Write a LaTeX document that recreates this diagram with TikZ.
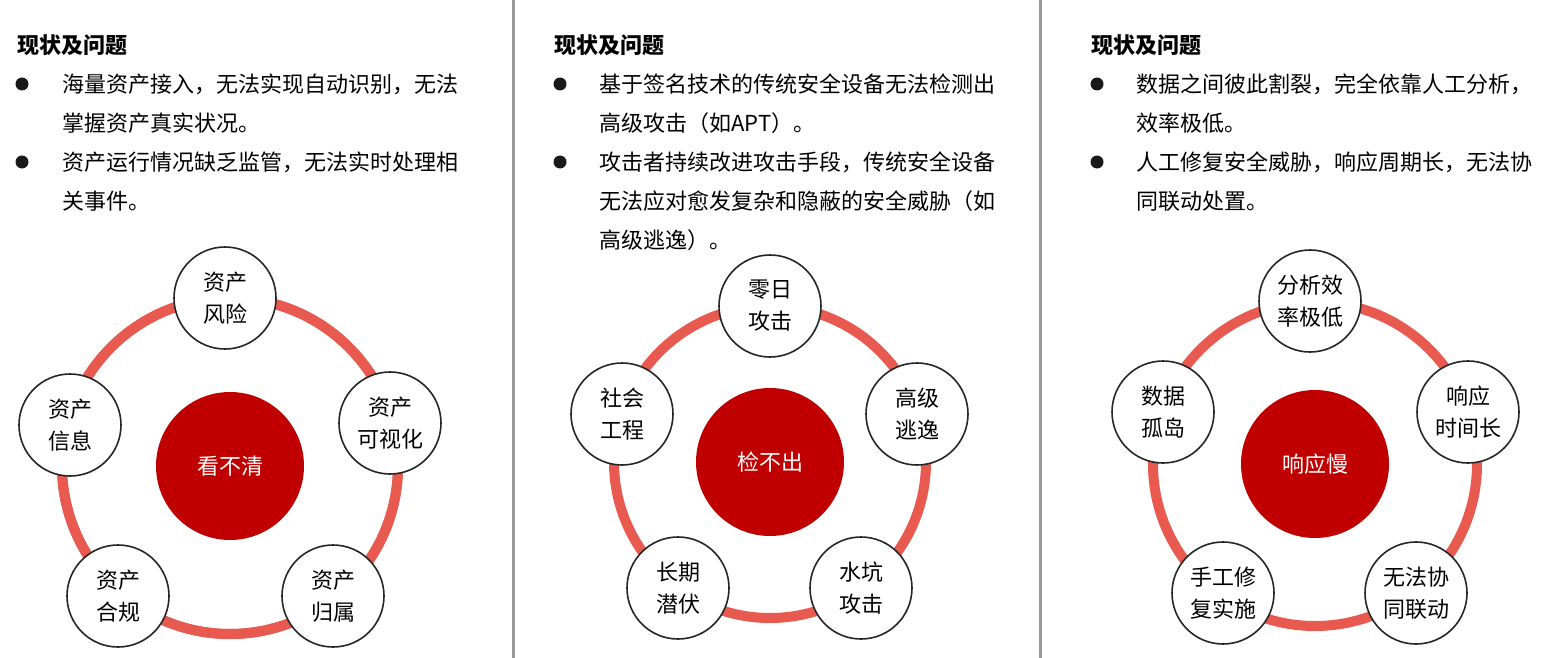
\documentclass[tikz,border=0pt]{standalone}
\usepackage{fontspec}
\setmainfont{Noto Sans CJK SC}
\newfontfamily\cjkb[FakeBold=0]{Noto Sans CJK SC Bold}
\definecolor{ringc}{HTML}{E85A50}
\definecolor{core}{HTML}{C00000}
\begin{document}
\begin{tikzpicture}[x=0.5pt,y=-0.5pt,font=\fontsize{11pt}{13pt}\selectfont,
  ring/.style={draw=ringc,line width=5pt},
  bub/.style={circle,draw=black!85,line width=0.8pt,fill=white,minimum size=51pt,inner sep=0pt,align=center,font=\fontsize{11pt}{16pt}\selectfont},
  core/.style={circle,fill=core,minimum size=74pt,inner sep=0pt,text=white},
  head/.style={anchor=west,font=\fontsize{11pt}{13pt}\selectfont\bfseries},
  txt/.style={anchor=west,inner sep=0pt},
  dot/.style={circle,fill=black!90,inner sep=0pt,minimum size=6.5pt}]
\useasboundingbox (0,0) rectangle (1558,658);
\draw[black!40,line width=1.5pt] (513,0) -- (513,658);
\draw[black!40,line width=1.5pt] (1040,0) -- (1040,658);
% panel 1
\node[head] (h1) at (10,45) {现状及问题};
\node[dot] (d11) at (22,84) {};
\node[txt] (t11) at (62,84) {海量资产接入，无法实现自动识别，无法};
\node[txt] (t12) at (62,123) {掌握资产真实状况。};
\node[dot] (d12) at (22,162) {};
\node[txt] (t13) at (62,162) {资产运行情况缺乏监管，无法实时处理相};
\node[txt] (t14) at (62,201) {关事件。};
\draw[ring] (230,466) circle (168pt/2*2/2*1);
\draw[ring] (230,466) circle (84pt);
\node[core] (c1) at (230,466) {看不清};
\node[bub] (a1) at (225,298) {资产\\风险};
\node[bub] (a2) at (390,423) {资产\\可视化};
\node[bub] (a3) at (333,596) {资产\\归属};
\node[bub] (a4) at (118,596) {资产\\合规};
\node[bub] (a5) at (70,425) {资产\\信息};
% panel 2
\node[head] (h2) at (547,45) {现状及问题};
\node[dot] (d21) at (560,84) {};
\node[txt] (t21) at (599,84) {基于签名技术的传统安全设备无法检测出};
\node[txt] (t22) at (599,123) {高级攻击（如APT）。};
\node[dot] (d22) at (560,162) {};
\node[txt] (t23) at (599,162) {攻击者持续改进攻击手段，传统安全设备};
\node[txt] (t24) at (599,201) {无法应对愈发复杂和隐蔽的安全威胁（如};
\node[txt] (t25) at (599,240) {高级逃逸）。};
\draw[ring] (770,462) circle (78pt);
\node[core] (c2) at (770,462) {检不出};
\node[bub] (b1) at (770,306) {零日\\攻击};
\node[bub] (b2) at (917,414) {高级\\逃逸};
\node[bub] (b3) at (861,588) {水坑\\攻击};
\node[bub] (b4) at (678,588) {长期\\潜伏};
\node[bub] (b5) at (622,414) {社会\\工程};
% panel 3
\node[head] (h3) at (1084,45) {现状及问题};
\node[dot] (d31) at (1097,84) {};
\node[txt] (t31) at (1136,84) {数据之间彼此割裂，完全依靠人工分析，};
\node[txt] (t32) at (1136,123) {效率极低。};
\node[dot] (d32) at (1097,162) {};
\node[txt] (t33) at (1136,162) {人工修复安全威胁，响应周期长，无法协};
\node[txt] (t34) at (1136,201) {同联动处置。};
\draw[ring] (1315,464) circle (81pt);
\node[core] (c3) at (1315,464) {响应慢};
\node[bub] (e1) at (1310,301) {分析效\\率极低};
\node[bub] (e2) at (1468,412) {响应\\时间长};
\node[bub] (e3) at (1416,593) {无法协\\同联动};
\node[bub] (e4) at (1223,593) {手工修\\复实施};
\node[bub] (e5) at (1163,412) {数据\\孤岛};
\end{tikzpicture}
\end{document}
